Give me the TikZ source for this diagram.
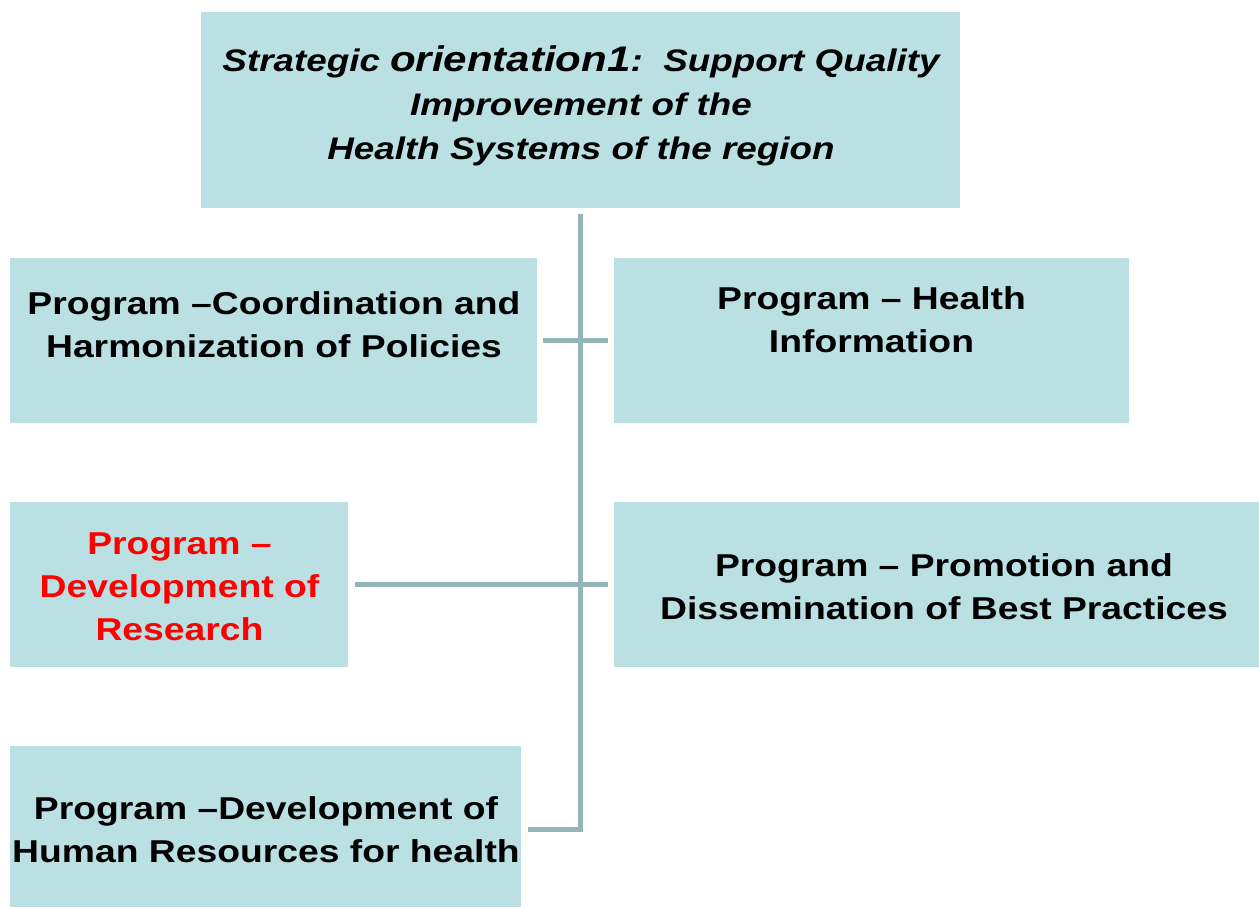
\documentclass[tikz,border=0pt]{standalone}
\usepackage{fontspec}
\setmainfont{Liberation Sans}
\newfontfamily\widefont[FakeStretch=1.18]{Liberation Sans}
\definecolor{boxfill}{HTML}{BAE0E3}
\definecolor{linecol}{HTML}{94B4B8}
\definecolor{redtxt}{HTML}{FF0000}
\begin{document}
\begin{tikzpicture}[x=0.75pt,y=-0.75pt,
  box/.style={rectangle,fill=boxfill,draw=none,inner sep=0pt},
  lbl/.style={align=center,inner sep=0pt,font=\widefont\fontsize{23.7}{32.3}\selectfont\bfseries},
  conn/.style={draw=linecol,line width=3.75pt,line join=miter}]
\useasboundingbox (0,0) rectangle (1259,907);
% boxes
\node[box,minimum width=569.25pt,minimum height=147pt] (top) at (580.5,110) {};
\node[box,minimum width=395.25pt,minimum height=123.75pt] (l1) at (273.5,340.5) {};
\node[box,minimum width=386.25pt,minimum height=123.75pt] (r1) at (871.5,340.5) {};
\node[box,minimum width=253.5pt,minimum height=123.75pt] (l2) at (179,584.5) {};
\node[box,minimum width=483.75pt,minimum height=123.75pt] (r2) at (936.5,584.5) {};
\node[box,minimum width=383.25pt,minimum height=120.75pt] (l3) at (265.5,826.5) {};
% texts
\node[lbl,font=\widefont\fontsize{23.4}{33}\selectfont\bfseries\itshape] (ttop) at (581,106)
  {Strategic {\fontsize{26.7}{33}\selectfont orientation1}:\ \ Support Quality\\Improvement of the\\Health Systems of the region};
\node[lbl] (tl1) at (274,325) {Program –Coordination and\\Harmonization of Policies};
\node[lbl] (tr1) at (871.5,320) {Program – Health\\Information};
\node[lbl,text=redtxt] (tl2) at (179.5,586.5) {Program –\\Development of\\Research};
\node[lbl] (tr2) at (944,586.5) {Program – Promotion and\\Dissemination of Best Practices};
\node[lbl] (tl3) at (266,829.5) {Program –Development of\\Human Resources for health};
% connectors
\coordinate (v1) at (580.5,214);
\coordinate (v2) at (580.5,829);
\coordinate (h1a) at ([xshift=4.5pt]l1.east |- 0,340);
\coordinate (h1b) at ([xshift=-4.5pt]r1.west |- 0,340);
\coordinate (h2a) at ([xshift=5pt]l2.east |- 0,584);
\coordinate (h2b) at ([xshift=-4.5pt]r2.west |- 0,584);
\coordinate (h3a) at ([xshift=5pt]l3.east |- 0,829);
\draw[conn] (v1) -- (v2) -- (h3a);
\draw[conn] (h1a) -- (h1b);
\draw[conn] (h2a) -- (h2b);
\end{tikzpicture}
\end{document}
